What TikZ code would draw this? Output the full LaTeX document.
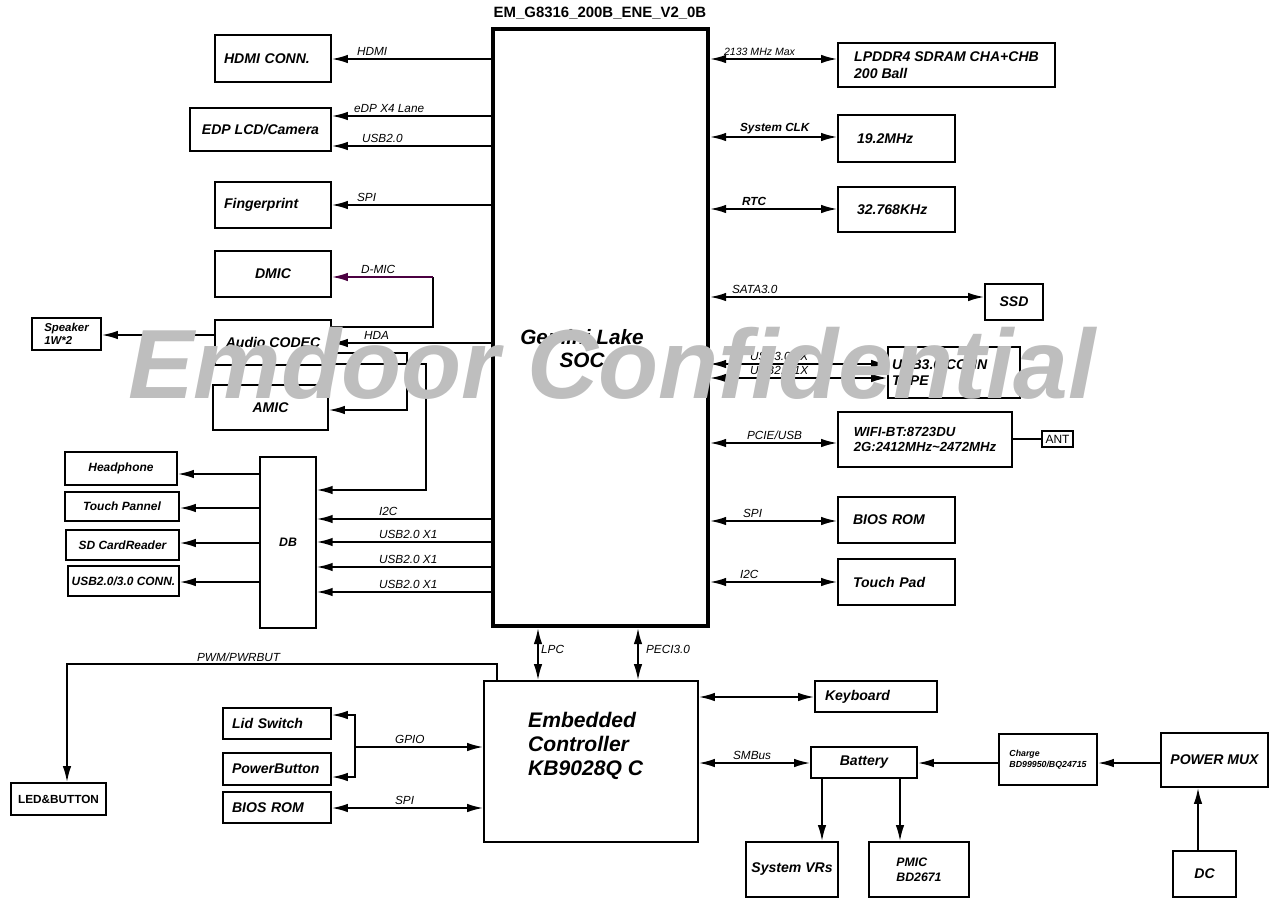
\documentclass[tikz,border=0pt]{standalone}
\usepackage{fontspec}
\setmainfont{Liberation Sans}
\usetikzlibrary{positioning,arrows.meta}
\definecolor{Cmarca}{RGB}{190,190,190}
\definecolor{Croxo}{RGB}{75,0,65}

\tikzset{
  blk/.style={draw, line width=1pt, inner sep=0pt, align=center,
              font=\bfseries\itshape\fontsize{8}{9.5}\selectfont},
  lblk/.style={blk, align=left, text width=#1},
  sig/.style={inner sep=1pt, anchor=south west,
              font=\itshape\fontsize{6.7}{8}\selectfont},
  bus/.style={line width=1pt, -{Latex[length=3.2mm,width=1.7mm]}},
  bibus/.style={line width=1pt,
                {Latex[length=3.2mm,width=1.7mm]}-{Latex[length=3.2mm,width=1.7mm]}},
}

\begin{document}
\begin{tikzpicture}[x=0.02cm, y=-0.02cm]
  \useasboundingbox (0,0) rectangle (1271,899);

  % SoC and EC
  \node[draw, line width=2.4pt, minimum width=4.3cm, minimum height=11.94cm]
    (soc) at (600.5,327.5) {};
  \node[font=\bfseries\fontsize{8.5}{10}\selectfont] (title) at (600,13)
    {EM\_G8316\_200B\_ENE\_V2\_0B};
  \node[align=center, font=\bfseries\itshape\fontsize{11.8}{13}\selectfont]
    (soctxt) at (582,349) {Gemini Lake\\SOC};
  \node[draw, line width=1pt, minimum width=4.28cm, minimum height=3.22cm]
    (ec) at (591,761.5) {};
  \node[anchor=west, align=left, font=\bfseries\itshape\fontsize{12}{13.6}\selectfont]
    (ectxt) at (522,746) {Embedded\\Controller\\KB9028Q C};

  % left of the SoC
  \node[lblk=1.96cm, minimum width=2.32cm, minimum height=0.94cm] (hdmi) at (273,58.5) {HDMI CONN.};
  \node[blk, minimum width=2.82cm, minimum height=0.86cm] (edp) at (260.5,129.5) {EDP LCD/Camera};
  \node[lblk=1.96cm, minimum width=2.32cm, minimum height=0.92cm] (fing) at (273,205) {Fingerprint};
  \node[blk, minimum width=2.32cm, minimum height=0.92cm] (dmic) at (273,274) {DMIC};
  \node[blk, minimum width=2.32cm, minimum height=0.9cm] (codec) at (273,342.5) {Audio CODEC};
  \node[blk, minimum width=2.3cm, minimum height=0.9cm] (amic) at (270.5,407.5) {AMIC};
  \node[blk, align=left, minimum width=1.38cm, minimum height=0.64cm,
        font=\bfseries\itshape\fontsize{6.5}{7}\selectfont] (spk) at (66.5,334) {Speaker\\1W*2};

  \node[draw, line width=0.8pt, minimum width=1.12cm, minimum height=3.42cm,
        font=\bfseries\itshape\fontsize{7}{8}\selectfont] (db) at (288,542.5) {DB};
  \node[blk, font=\bfseries\itshape\fontsize{6.8}{8}\selectfont,
        minimum width=2.24cm, minimum height=0.66cm] (hp) at (121,468.5) {Headphone};
  \node[blk, font=\bfseries\itshape\fontsize{6.8}{8}\selectfont,
        minimum width=2.28cm, minimum height=0.58cm] (tp) at (122,506.5) {Touch Pannel};
  \node[blk, font=\bfseries\itshape\fontsize{6.8}{8}\selectfont,
        minimum width=2.26cm, minimum height=0.6cm] (sd) at (122.5,545) {SD CardReader};
  \node[blk, font=\bfseries\itshape\fontsize{6.8}{8}\selectfont,
        minimum width=2.22cm, minimum height=0.6cm] (usbc) at (123.5,581) {USB2.0/3.0 CONN.};

  \node[blk, font=\bfseries\fontsize{6.7}{8}\selectfont,
        minimum width=1.9cm, minimum height=0.64cm] (led) at (58.5,799) {LED\&BUTTON};
  \node[lblk=1.8cm, minimum width=2.16cm, minimum height=0.62cm] (lid) at (277,723.5) {Lid Switch};
  \node[lblk=1.8cm, minimum width=2.16cm, minimum height=0.64cm] (pwb) at (277,769) {PowerButton};
  \node[lblk=1.8cm, minimum width=2.16cm, minimum height=0.62cm] (bios2) at (277,807.5) {BIOS ROM};

  % right of the SoC
  \node[blk, align=left, minimum width=4.34cm, minimum height=0.88cm] (ddr) at (946.5,65)
    {LPDDR4 SDRAM CHA+CHB\\200 Ball};
  \node[lblk=1.58cm, minimum width=2.34cm, minimum height=0.94cm] (clk) at (896.5,138.5) {19.2MHz};
  \node[lblk=1.58cm, minimum width=2.34cm, minimum height=0.9cm] (rtc) at (896.5,209.5) {32.768KHz};
  \node[blk, minimum width=1.16cm, minimum height=0.72cm] (ssd) at (1014,302) {SSD};
  \node[lblk=2.48cm, minimum width=2.64cm, minimum height=1.02cm] (usb3) at (954,372.5)
    {USB3.0 CONN\\TYPE A};
  \node[blk, align=left, font=\bfseries\itshape\fontsize{7.5}{9}\selectfont,
        minimum width=3.48cm, minimum height=1.1cm] (wifi) at (925,439.5)
    {WIFI-BT:8723DU\\2G:2412MHz\textasciitilde2472MHz};
  \node[draw, line width=0.8pt, inner sep=0pt, minimum width=0.62cm, minimum height=0.32cm,
        font=\fontsize{6.8}{8}\selectfont] (ant) at (1057.5,439) {ANT};
  \node[lblk=1.74cm, minimum width=2.34cm, minimum height=0.92cm] (bios1) at (896.5,520) {BIOS ROM};
  \node[lblk=1.74cm, minimum width=2.34cm, minimum height=0.92cm] (tpad) at (896.5,582) {Touch Pad};

  % power side
  \node[lblk=2.04cm, minimum width=2.44cm, minimum height=0.62cm] (kbd) at (876,696.5) {Keyboard};
  \node[blk, minimum width=2.12cm, minimum height=0.62cm] (bat) at (864,762.5) {Battery};
  \node[blk, align=left, font=\bfseries\itshape\fontsize{5}{6.5}\selectfont,
        minimum width=1.96cm, minimum height=1.02cm] (chg) at (1048,759.5)
    {Charge\\BD99950/BQ24715};
  \node[blk, minimum width=2.14cm, minimum height=1.08cm] (pmux) at (1214.5,760) {POWER MUX};
  \node[blk, minimum width=1.26cm, minimum height=0.92cm] (dc) at (1204.5,874) {DC};
  \node[blk, minimum width=1.84cm, minimum height=1.1cm] (vrs) at (792,869.5) {System VRs};
  \node[blk, align=left, font=\bfseries\itshape\fontsize{7}{8.5}\selectfont,
        minimum width=2cm, minimum height=1.1cm] (pmic) at (919,869.5) {PMIC\\BD2671};

  % SoC left links
  \draw[bus] (soc.west |- 0,59) -- (hdmi.east |- 0,59);
  \draw[bus] (soc.west |- 0,116) -- (edp.east |- 0,116);
  \draw[bus] (soc.west |- 0,146) -- (edp.east |- 0,146);
  \draw[bus] (soc.west |- 0,205) -- (fing.east |- 0,205);
  \draw[bus] (soc.west |- 0,343) -- (codec.east |- 0,343);
  \node[sig] (lhdmi) at (355,58) {HDMI};
  \node[sig] (ledp) at (352,115) {eDP X4 Lane};
  \node[sig] (lusbc) at (360,145) {USB2.0};
  \node[sig] (lspi) at (355,204) {SPI};
  \node[sig] (lhda) at (362,342) {HDA};

  % audio
  \draw[line width=1pt] (codec.east |- 0,327) -- ++(101,0) coordinate (dmc) -- ++(0,-50);
  \draw[bus, Croxo] (dmc |- 0,277) -- (dmic.east |- 0,277);
  \node[sig] (ldmic) at (359,276) {D-MIC};
  \draw[bus] (codec.east |- 0,353) -- ++(75,0) |- (amic.east |- 0,410);
  \draw[bus] (codec.east |- 0,364) -- ++(94,0) |- (db.east |- 0,490);
  \draw[bus] (codec.west |- 0,335) -- (spk.east |- 0,335);

  % daughter board
  \draw[bus] (db.west |- 0,474) -- (hp.east |- 0,474);
  \draw[bus] (db.west |- 0,508) -- (tp.east |- 0,508);
  \draw[bus] (db.west |- 0,543) -- (sd.east |- 0,543);
  \draw[bus] (db.west |- 0,582) -- (usbc.east |- 0,582);
  \draw[bus] (soc.west |- 0,519) -- (db.east |- 0,519);
  \draw[bus] (soc.west |- 0,542) -- (db.east |- 0,542);
  \draw[bus] (soc.west |- 0,567) -- (db.east |- 0,567);
  \draw[bus] (soc.west |- 0,592) -- (db.east |- 0,592);
  \node[sig] (li2c) at (377,518) {I2C};
  \node[sig] (lusb1) at (377,541) {USB2.0 X1};
  \node[sig] (lusb2) at (377,566) {USB2.0 X1};
  \node[sig] (lusb3) at (377,591) {USB2.0 X1};

  % SoC right links
  \draw[bibus] (soc.east |- 0,59) -- (ddr.west |- 0,59);
  \draw[bibus] (soc.east |- 0,137) -- (clk.west |- 0,137);
  \draw[bibus] (soc.east |- 0,209) -- (rtc.west |- 0,209);
  \draw[bibus] (soc.east |- 0,297) -- (ssd.west |- 0,297);
  \draw[bibus] (soc.east |- 0,364) -- (usb3.west |- 0,364);
  \draw[bibus] (soc.east |- 0,378) -- (usb3.west |- 0,378);
  \draw[bibus] (soc.east |- 0,443) -- (wifi.west |- 0,443);
  \draw[bibus] (soc.east |- 0,521) -- (bios1.west |- 0,521);
  \draw[bibus] (soc.east |- 0,582) -- (tpad.west |- 0,582);
  \draw[line width=1pt] (wifi.east |- ant) -- (ant.west);
  \node[sig, font=\itshape\fontsize{6}{7}\selectfont] (lddr) at (722,58) {2133 MHz Max};
  \node[sig, font=\bfseries\itshape\fontsize{6.7}{8}\selectfont] (lclk) at (738,136) {System CLK};
  \node[sig, font=\bfseries\itshape\fontsize{6.7}{8}\selectfont] (lrtc) at (740,208) {RTC};
  \node[sig] (lsata) at (730,296) {SATA3.0};
  \node[sig] (lu3) at (748,363) {USB3.0 1X};
  \node[sig] (lu2) at (748,377) {USB2.0 1X};
  \node[sig] (lpcie) at (745,442) {PCIE/USB};
  \node[sig] (lspi2) at (741,520) {SPI};
  \node[sig] (li2c2) at (738,581) {I2C};

  % SoC to EC
  \draw[bibus] (ec.north -| 538,0) -- (soc.south -| 538,0);
  \draw[bibus] (ec.north -| 638,0) -- (soc.south -| 638,0);
  \node[sig, anchor=west] (llpc) at (539,649) {LPC};
  \node[sig, anchor=west] (lpeci) at (644,649) {PECI3.0};

  % EC left links
  \draw[bus] (ec.north -| 497,0) -- ++(0,-16) -| (led.north -| 67,0);
  \node[sig] (lpwm) at (195,664) {PWM/PWRBUT};
  \coordinate (gj) at (354,747);
  \draw[bibus] (lid.east |- 0,715) -- ++(23,0) |- (pwb.east |- 0,777);
  \draw[bus] (gj) -- (ec.west |- gj);
  \draw[bibus] (bios2.east |- 0,808) -- (ec.west |- 0,808);
  \node[sig] (lgpio) at (393,746) {GPIO};
  \node[sig] (lspi3) at (393,807) {SPI};

  % EC right and power
  \draw[bibus] (ec.east |- 0,697) -- (kbd.west |- 0,697);
  \draw[bibus] (ec.east |- 0,763) -- (bat.west |- 0,763);
  \node[sig] (lsmb) at (731,762) {SMBus};
  \draw[bus] (chg.west |- 0,763) -- (bat.east |- 0,763);
  \draw[bus] (pmux.west |- 0,763) -- (chg.east |- 0,763);
  \draw[bus] (bat.south -| 822,0) -- (vrs.north -| 822,0);
  \draw[bus] (bat.south -| 900,0) -- (pmic.north -| 900,0);
  \draw[bus] (dc.north -| 1198,0) -- (pmux.south -| 1198,0);

  % watermark
  \node[anchor=base west, inner sep=0pt, text=Cmarca,
        font=\bfseries\itshape\fontsize{56}{60}\selectfont] (marca) at (128,398)
    {Emdoor Confidential};
\end{tikzpicture}
\end{document}
